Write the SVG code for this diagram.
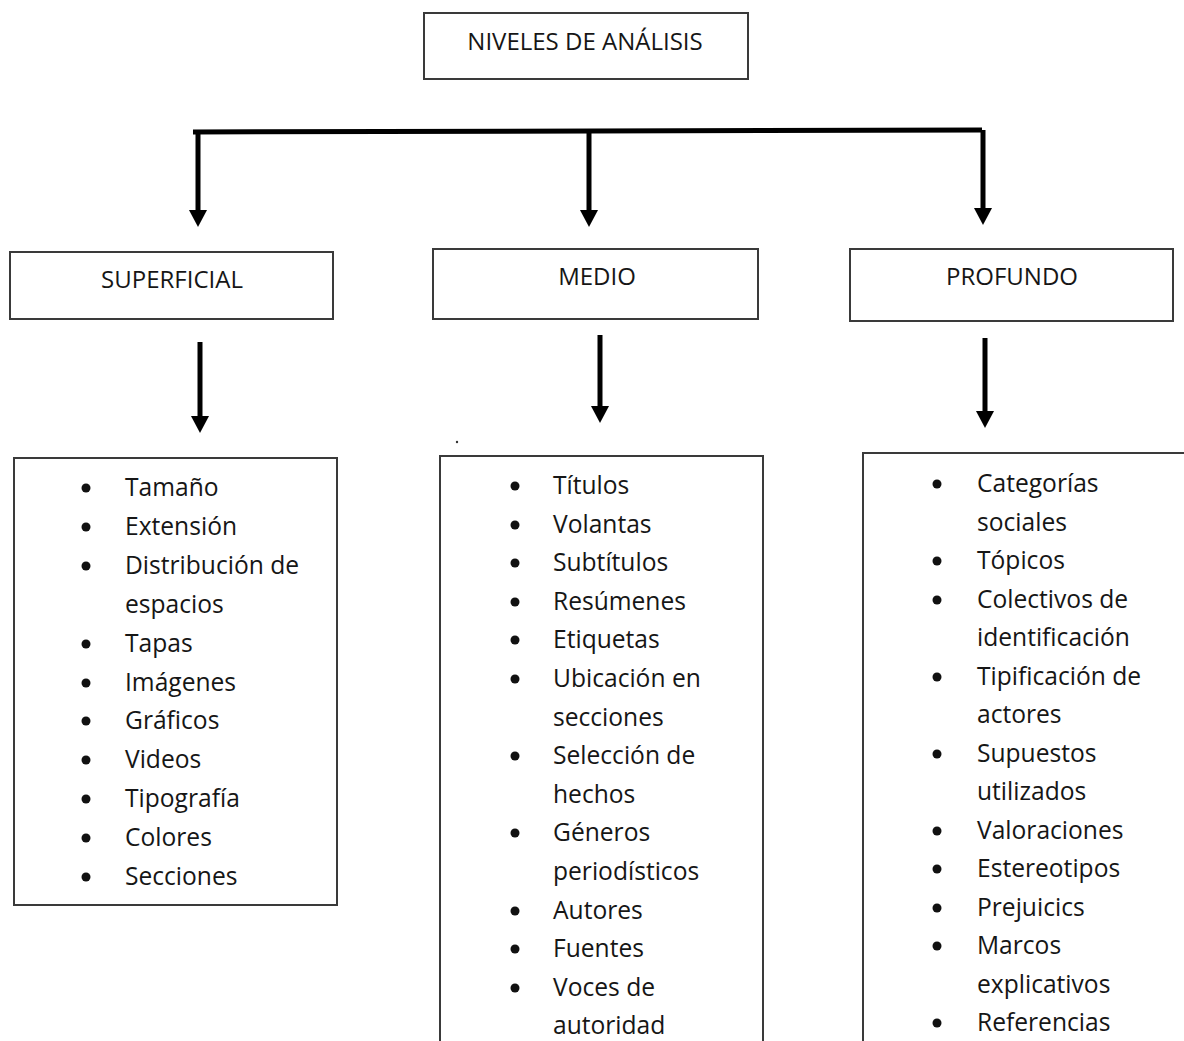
<svg xmlns="http://www.w3.org/2000/svg" width="1184" height="1041" viewBox="0 0 1184 1041">
  <style>
    .box { fill: #ffffff; stroke: #3a3a3a; stroke-width: 2; }
    .hdr { font-family: "Open Sans", "DejaVu Sans", sans-serif; font-size: 24px; fill: #161616; text-anchor: middle; }
    .item { font-family: "Open Sans", "DejaVu Sans", sans-serif; font-size: 24.6px; fill: #161616; }
    .bullet { fill: #111111; }
    .line { stroke: #000000; stroke-width: 5; fill: none; }
    .head { fill: #000000; }
  </style>
  <rect width="1184" height="1041" fill="#ffffff"/>

  <g id="connectors">
    <path class="line" d="M193,132 L982,130"/>
    <line class="line" x1="198" y1="132" x2="198" y2="211"/>
    <path class="head" d="M189,210 L207,210 L198,227 Z"/>
    <line class="line" x1="589" y1="131" x2="589" y2="211"/>
    <path class="head" d="M580,210 L598,210 L589,227 Z"/>
    <line class="line" x1="983" y1="130" x2="983" y2="209"/>
    <path class="head" d="M974,208 L992,208 L983,225 Z"/>

    <line class="line" x1="200" y1="342" x2="200" y2="417"/>
    <path class="head" d="M191,416 L209,416 L200,433 Z"/>
    <line class="line" x1="600" y1="335" x2="600" y2="407"/>
    <path class="head" d="M591,406 L609,406 L600,423 Z"/>
    <line class="line" x1="985" y1="338" x2="985" y2="412"/>
    <path class="head" d="M976,411 L994,411 L985,428 Z"/>
  </g>

  <g id="niveles">
    <rect class="box" x="424" y="13" width="324" height="66"/>
    <text class="hdr" x="585" y="50">NIVELES DE ANÁLISIS</text>
  </g>

  <g id="superficial">
    <rect class="box" x="10" y="252" width="323" height="67"/>
    <text class="hdr" x="172" y="288">SUPERFICIAL</text>
  </g>

  <g id="medio">
    <rect class="box" x="433" y="249" width="325" height="70"/>
    <text class="hdr" x="597" y="285">MEDIO</text>
  </g>

  <g id="profundo">
    <rect class="box" x="850" y="249" width="323" height="72"/>
    <text class="hdr" x="1012" y="285">PROFUNDO</text>
  </g>

  <g id="lista-superficial">
    <rect class="box" x="14" y="458" width="323" height="447"/>
    <g class="bullet">
      <circle cx="86" cy="488" r="4.5"/>
      <circle cx="86" cy="527" r="4.5"/>
      <circle cx="86" cy="566" r="4.5"/>
      <circle cx="86" cy="644" r="4.5"/>
      <circle cx="86" cy="683" r="4.5"/>
      <circle cx="86" cy="721" r="4.5"/>
      <circle cx="86" cy="760" r="4.5"/>
      <circle cx="86" cy="799" r="4.5"/>
      <circle cx="86" cy="838" r="4.5"/>
      <circle cx="86" cy="877" r="4.5"/>
    </g>
    <text class="item" x="125" y="496">Tamaño</text>
    <text class="item" x="125" y="535">Extensión</text>
    <text class="item" x="125" y="574">Distribución de</text>
    <text class="item" x="125" y="613">espacios</text>
    <text class="item" x="125" y="652">Tapas</text>
    <text class="item" x="125" y="691">Imágenes</text>
    <text class="item" x="125" y="729">Gráficos</text>
    <text class="item" x="125" y="768">Videos</text>
    <text class="item" x="125" y="807">Tipografía</text>
    <text class="item" x="125" y="846">Colores</text>
    <text class="item" x="125" y="885">Secciones</text>
  </g>

  <g id="lista-medio">
    <rect class="box" x="440" y="456" width="323" height="600"/>
    <circle cx="457" cy="442" r="1.2" fill="#333"/>
    <g class="bullet">
      <circle cx="515" cy="486" r="4.5"/>
      <circle cx="515" cy="525" r="4.5"/>
      <circle cx="515" cy="563" r="4.5"/>
      <circle cx="515" cy="602" r="4.5"/>
      <circle cx="515" cy="640" r="4.5"/>
      <circle cx="515" cy="679" r="4.5"/>
      <circle cx="515" cy="756" r="4.5"/>
      <circle cx="515" cy="833" r="4.5"/>
      <circle cx="515" cy="911" r="4.5"/>
      <circle cx="515" cy="949" r="4.5"/>
      <circle cx="515" cy="988" r="4.5"/>
    </g>
    <text class="item" x="553" y="494">Títulos</text>
    <text class="item" x="553" y="533">Volantas</text>
    <text class="item" x="553" y="571">Subtítulos</text>
    <text class="item" x="553" y="610">Resúmenes</text>
    <text class="item" x="553" y="648">Etiquetas</text>
    <text class="item" x="553" y="687">Ubicación en</text>
    <text class="item" x="553" y="726">secciones</text>
    <text class="item" x="553" y="764">Selección de</text>
    <text class="item" x="553" y="803">hechos</text>
    <text class="item" x="553" y="841">Géneros</text>
    <text class="item" x="553" y="880">periodísticos</text>
    <text class="item" x="553" y="919">Autores</text>
    <text class="item" x="553" y="957">Fuentes</text>
    <text class="item" x="553" y="996">Voces de</text>
    <text class="item" x="553" y="1034">autoridad</text>
  </g>

  <g id="lista-profundo">
    <rect class="box" x="863" y="453" width="340" height="600"/>
    <g class="bullet">
      <circle cx="937" cy="484" r="4.5"/>
      <circle cx="937" cy="561" r="4.5"/>
      <circle cx="937" cy="600" r="4.5"/>
      <circle cx="937" cy="677" r="4.5"/>
      <circle cx="937" cy="754" r="4.5"/>
      <circle cx="937" cy="831" r="4.5"/>
      <circle cx="937" cy="869" r="4.5"/>
      <circle cx="937" cy="908" r="4.5"/>
      <circle cx="937" cy="946" r="4.5"/>
      <circle cx="937" cy="1023" r="4.5"/>
    </g>
    <text class="item" x="977" y="492">Categorías</text>
    <text class="item" x="977" y="531">sociales</text>
    <text class="item" x="977" y="569">Tópicos</text>
    <text class="item" x="977" y="608">Colectivos de</text>
    <text class="item" x="977" y="646">identificación</text>
    <text class="item" x="977" y="685">Tipificación de</text>
    <text class="item" x="977" y="723">actores</text>
    <text class="item" x="977" y="762">Supuestos</text>
    <text class="item" x="977" y="800">utilizados</text>
    <text class="item" x="977" y="839">Valoraciones</text>
    <text class="item" x="977" y="877">Estereotipos</text>
    <text class="item" x="977" y="916">Prejuicics</text>
    <text class="item" x="977" y="954">Marcos</text>
    <text class="item" x="977" y="993">explicativos</text>
    <text class="item" x="977" y="1031">Referencias</text>
  </g>
</svg>
